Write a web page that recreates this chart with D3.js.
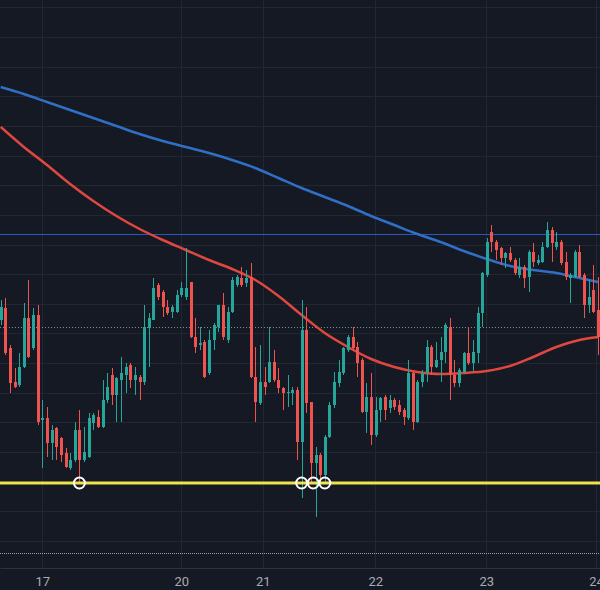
<!DOCTYPE html>
<html>
<head>
<meta charset="utf-8">
<script src="https://cdn.jsdelivr.net/npm/d3@7"></script>
<style>
  html, body { margin: 0; padding: 0; background: #151924; }
  svg { display: block; }
</style>
</head>
<body>
<svg width="600" height="590"></svg>
<script>
// candle data, one entry per bar
const opens = [4280,4292,4252,4218,4215,4233,4282,4252,4285,4180,4182,4157,4172,4162,4147,4132,4140,4170,4140,4143,
  4177,4183,4173,4200,4225,4205,4220,4225,4235,4220,4223,4218,4272,4280,4315,4308,4293,4288,4288,4305,
  4303,4318,4263,4255,4258,4227,4260,4273,4295,4260,4288,4315,4322,4317,4323,4223,4197,4218,4218,4238,
  4220,4212,4207,4207,4210,4158,4270,4198,4137,4145,4125,4163,4195,4217,4227,4250,4263,4253,4240,4188,
  4203,4165,4190,4203,4192,4200,4195,4190,4182,4227,4178,4218,4227,4253,4233,4240,4248,4273,4225,4217,
  4228,4247,4237,4247,4287,4325,4368,4358,4352,4342,4347,4340,4325,4333,4323,4348,4337,4338,4353,4370,
  4353,4358,4338,4322,4323,4348,4325,4295,4310,4290];
const highs = [4300,4302,4255,4232,4247,4297,4320,4292,4295,4200,4193,4175,4173,4163,4152,4147,4178,4190,4173,4187,
  4187,4190,4220,4227,4232,4223,4243,4237,4237,4233,4225,4295,4287,4322,4317,4310,4300,4295,4310,4318,
  4352,4318,4282,4273,4260,4270,4277,4295,4307,4293,4323,4325,4333,4330,4337,4253,4255,4233,4273,4250,
  4232,4213,4225,4213,4213,4300,4293,4198,4153,4147,4165,4198,4228,4240,4253,4265,4273,4258,4242,4217,
  4227,4203,4203,4205,4205,4202,4200,4192,4240,4228,4220,4230,4260,4255,4258,4263,4277,4282,4240,4232,
  4248,4273,4260,4293,4328,4362,4375,4360,4353,4348,4353,4342,4342,4335,4350,4357,4345,4358,4378,4373,
  4368,4360,4348,4327,4350,4355,4327,4320,4335,4323];
const lows = [4275,4245,4207,4212,4213,4232,4242,4250,4175,4132,4143,4140,4140,4138,4132,4130,4138,4117,4138,4142,
  4170,4172,4172,4197,4195,4178,4178,4207,4212,4205,4200,4215,4233,4280,4300,4283,4285,4282,4287,4303,
  4300,4262,4247,4250,4222,4225,4250,4268,4260,4257,4287,4313,4313,4313,4222,4178,4195,4205,4217,4218,
  4207,4190,4193,4195,4140,4102,4187,4117,4083,4117,4117,4162,4192,4213,4225,4248,4250,4223,4187,4167,
  4155,4163,4178,4180,4187,4190,4185,4175,4180,4170,4177,4213,4218,4225,4232,4218,4237,4200,4213,4213,
  4227,4235,4228,4237,4273,4323,4348,4340,4335,4332,4338,4325,4322,4312,4308,4333,4335,4337,4352,4338,
  4350,4335,4320,4297,4322,4322,4282,4287,4287,4245];
const closes = [4293,4247,4217,4213,4233,4282,4243,4285,4178,4182,4157,4170,4153,4145,4133,4140,4170,4140,4148,4182,
  4185,4173,4200,4213,4205,4222,4227,4233,4220,4225,4218,4273,4282,4312,4303,4293,4287,4293,4305,4312,
  4312,4263,4253,4257,4223,4260,4275,4295,4263,4288,4320,4323,4315,4322,4223,4198,4218,4213,4238,4220,
  4212,4207,4208,4210,4158,4270,4197,4137,4145,4125,4163,4195,4218,4228,4252,4263,4252,4237,4188,4203,
  4165,4190,4202,4190,4200,4193,4188,4183,4227,4178,4218,4227,4253,4233,4240,4248,4275,4225,4217,4230,
  4247,4237,4248,4287,4327,4358,4358,4350,4342,4347,4340,4327,4333,4322,4348,4338,4340,4353,4370,4357,
  4358,4337,4323,4325,4348,4323,4295,4303,4288,4263];

// moving averages, read every 5th bar
const maIdx = [0,5,10,15,20,25,30,35,40,45,50,55,60,65,70,75,80,85,90,95,100,105,110,115,120,125,129];
const maSlow = [4513,4506,4498,4490,4482,4474,4466,4459,4453,4447,4440,4432,4422,4412,4403,4394,4384,4375,4366,4358,
  4349,4341,4334,4330,4327,4322,4318];
const maFast = [4473,4453,4435,4416,4399,4384,4371,4360,4350,4340,4331,4320,4304,4285,4267,4253,4241,4233,4228,4226,
  4227,4229,4234,4243,4253,4260,4263];

// day separators on the time axis
const dayTicks = [9, 39, 56.6, 80.9, 104.9, 128.6];
const dayLabels = ["17", "20", "21", "22", "23", "24"];

// horizontal levels
const resistance = 4366;
const lastPrice = 4273;
const support = 4117;
const lowerLevel = 4047;
const touches = [17, 65, 67.5, 70];

const width = 600, height = 590, plotBottom = 568;

const x = d3.scaleLinear().domain([-0.15, 129.44]).range([0, width]);
const y = d3.scaleLinear().domain([4032, 4600]).range([plotBottom, 0]);

const svg = d3.select("svg");

svg.append("rect")
    .attr("width", width)
    .attr("height", height)
    .attr("fill", "#151924");

// grid
const gridLevels = d3.range(0, 19).map(k => 4059 + 29.65 * k);
svg.append("g")
    .selectAll("line")
    .data(gridLevels)
    .join("line")
    .attr("x1", 0)
    .attr("x2", width)
    .attr("y1", d => Math.round(y(d)) + 0.5)
    .attr("y2", d => Math.round(y(d)) + 0.5)
    .attr("stroke", "#232734");

svg.append("g")
    .selectAll("line")
    .data(dayTicks)
    .join("line")
    .attr("x1", d => Math.round(x(d)) + 0.5)
    .attr("x2", d => Math.round(x(d)) + 0.5)
    .attr("y1", 0)
    .attr("y2", plotBottom)
    .attr("stroke", "#232734");

// level lines
svg.append("line")
    .attr("x1", 0).attr("x2", width)
    .attr("y1", Math.round(y(resistance)) + 0.5)
    .attr("y2", Math.round(y(resistance)) + 0.5)
    .attr("stroke", "#2d55c4")
    .attr("stroke-width", 1);

svg.append("line")
    .attr("x1", 0).attr("x2", 598)
    .attr("y1", Math.round(y(lastPrice)) + 0.5)
    .attr("y2", Math.round(y(lastPrice)) + 0.5)
    .attr("stroke", "#6f9792")
    .attr("stroke-dasharray", "1 2");

svg.append("line")
    .attr("x1", 0).attr("x2", width)
    .attr("y1", Math.round(y(lowerLevel)) + 0.5)
    .attr("y2", Math.round(y(lowerLevel)) + 0.5)
    .attr("stroke", "#9a9ea8")
    .attr("stroke-dasharray", "1 1");

// moving averages
const maLine = d3.line()
    .x((d, i) => x(maIdx[i]))
    .y(d => y(d))
    .curve(d3.curveMonotoneX);

svg.append("path")
    .datum(maSlow)
    .attr("d", maLine)
    .attr("fill", "none")
    .attr("stroke", "#2f6fc6")
    .attr("stroke-width", 2.5);

svg.append("path")
    .datum(maFast)
    .attr("d", maLine)
    .attr("fill", "none")
    .attr("stroke", "#e0483f")
    .attr("stroke-width", 2.5);

// candles
const candles = opens.map((o, i) => ({ i, o, h: highs[i], l: lows[i], c: closes[i] }));
const color = d => d.c >= d.o ? "#26a69a" : "#ef5350";

const candle = svg.append("g")
    .selectAll("g")
    .data(candles)
    .join("g");

candle.append("line")
    .attr("x1", d => Math.round(x(d.i)) + 0.5)
    .attr("x2", d => Math.round(x(d.i)) + 0.5)
    .attr("y1", d => y(d.h))
    .attr("y2", d => y(d.l))
    .attr("stroke", color)
    .attr("stroke-width", 1);

candle.append("rect")
    .attr("x", d => Math.round(x(d.i)) - 1)
    .attr("width", 3)
    .attr("y", d => y(Math.max(d.o, d.c)))
    .attr("height", d => Math.max(1, Math.abs(y(d.o) - y(d.c))))
    .attr("fill", color);

// support line with touch marks
svg.append("line")
    .attr("x1", 0).attr("x2", width)
    .attr("y1", y(support))
    .attr("y2", y(support))
    .attr("stroke", "#f0e24a")
    .attr("stroke-width", 3);

svg.append("g")
    .selectAll("circle")
    .data(touches)
    .join("circle")
    .attr("cx", d => x(d))
    .attr("cy", y(support))
    .attr("r", 5.5)
    .attr("fill", "none")
    .attr("stroke", "#ffffff")
    .attr("stroke-width", 2);

// time axis
const axis = svg.append("g")
    .attr("transform", `translate(0,${plotBottom})`)
    .call(d3.axisBottom(x)
        .tickValues(dayTicks)
        .tickFormat((d, i) => dayLabels[i])
        .tickSize(0)
        .tickSizeOuter(0)
        .tickPadding(9));

axis.select(".domain")
    .attr("stroke", "#2e3240");

axis.selectAll("text")
    .attr("fill", "#a8abb4")
    .style("font-family", "Roboto, 'Noto Sans', sans-serif")
    .style("font-size", "13px");
</script>
</body>
</html>
